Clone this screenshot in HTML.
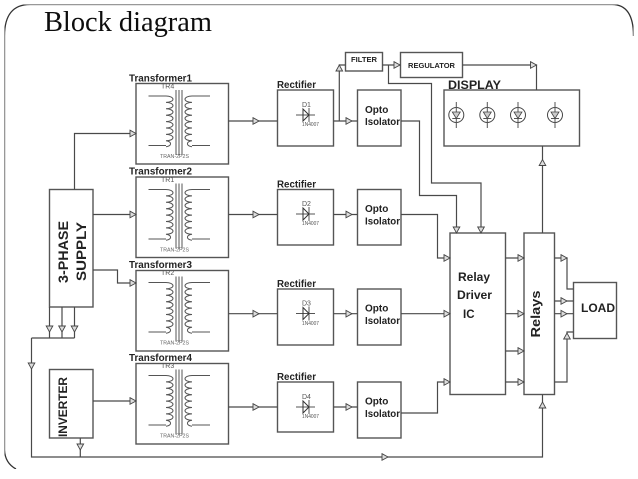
<!DOCTYPE html>
<html><head><meta charset="utf-8"><style>
html,body{margin:0;padding:0;background:#fff}
svg{display:block}
text{font-family:"Liberation Sans",sans-serif;fill:#222}
.box{fill:none;stroke:#555;stroke-width:1.4}
.w{fill:none;stroke:#4a4a4a;stroke-width:1.2}
.s{fill:none;stroke:#555;stroke-width:1}
</style></head><body>
<svg width="638" height="479" viewBox="0 0 638 479" xmlns="http://www.w3.org/2000/svg">
<defs>
<filter id="soft" x="0" y="0" width="100%" height="100%"><feGaussianBlur stdDeviation="0.3"/></filter>
<polygon id="ar" points="-6,-3.300 0,0 -6,3.300" fill="#ddd" stroke="#444" stroke-width="0.900"/>
<g id="tr">
<path class="s" d="M148.500,96H166M148.500,145.500H166"/>
<path class="s" d="M166,96a7,3.200 0 0 1 0,6.400a7,3.200 0 0 1 0,6.400a7,3.200 0 0 1 0,6.400a7,3.200 0 0 1 0,6.400a7,3.200 0 0 1 0,6.400a7,3.200 0 0 1 0,6.400a7,3.200 0 0 1 0,6.400a7,3.200 0 0 1 0,6"/>
<path class="s" d="M176,90V155M179,90V155M182,90V155"/>
<path class="s" d="M210,96H192M210,145.500H192"/>
<path class="s" d="M192,96a7,3.200 0 0 0 0,6.400a7,3.200 0 0 0 0,6.400a7,3.200 0 0 0 0,6.400a7,3.200 0 0 0 0,6.400a7,3.200 0 0 0 0,6.400a7,3.200 0 0 0 0,6.400a7,3.200 0 0 0 0,6.400a7,3.200 0 0 0 0,6"/>
<text x="160" y="158" font-size="5" style="fill:#666" textLength="29" lengthAdjust="spacingAndGlyphs">TRAN-2P2S</text>
</g>
<g id="dio">
<path class="s" d="M296,115H315M309,108V122"/>
<polygon points="303,109 309,115 303,121" fill="none" stroke="#333" stroke-width="1"/>
</g>
<g id="led">
<circle cx="0" cy="0" r="7.500" fill="none" stroke="#444" stroke-width="1"/>
<path class="s" d="M0,-13V13M-4,3.500H4"/>
<polygon points="-4,-3 4,-3 0,3.500" fill="#ccc" stroke="#444" stroke-width="0.800"/>
</g>
</defs>
<rect width="638" height="479" fill="#fff"/>
<g filter="url(#soft)">
<path d="M4.500,450V36Q4.500,4.500 30,4.500H612Q633.500,4.500 633.500,36" fill="none" stroke="#333" stroke-width="1.300"/>
<path d="M4.500,450Q5,463 16,469" fill="none" stroke="#333" stroke-width="1.300"/>
<text x="44" y="31" font-size="28.400" style="font-family:'Liberation Serif',serif;fill:#111">Block diagram</text>

<rect class="box" x="136" y="83.500" width="92.500" height="80.500"/>
<rect class="box" x="136" y="177" width="92.500" height="80.500"/>
<rect class="box" x="136" y="270.500" width="92.500" height="80.500"/>
<rect class="box" x="136" y="363.500" width="92.500" height="80.500"/>
<rect class="box" x="277.500" y="90" width="56" height="56"/>
<rect class="box" x="277.500" y="189.500" width="56" height="55.500"/>
<rect class="box" x="277.500" y="289" width="56" height="56"/>
<rect class="box" x="277.500" y="382" width="56" height="50"/>
<rect class="box" x="357.500" y="90" width="43.500" height="56"/>
<rect class="box" x="357.500" y="189.500" width="43.500" height="55.500"/>
<rect class="box" x="357.500" y="289" width="43.500" height="56"/>
<rect class="box" x="357.500" y="382" width="43.500" height="56"/>
<rect class="box" x="49.500" y="189.500" width="43.500" height="117.500"/>
<rect class="box" x="49.500" y="369.500" width="43.500" height="68.500"/>
<rect class="box" x="345.500" y="52.500" width="37" height="18.500"/>
<rect class="box" x="400.500" y="52.500" width="62" height="25"/>
<rect class="box" x="444" y="90" width="135.500" height="56"/>
<rect class="box" x="450" y="233" width="55.500" height="161.500"/>
<rect class="box" x="524" y="233" width="30.500" height="161.500"/>
<rect class="box" x="573.500" y="282.500" width="43" height="56"/>

<path class="w" d="M74.500,189.500V133.500H136M93,214.500H136M93,270H117.500V283H136M93,401H136"/>
<path class="w" d="M228.500,121H277.500M228.500,214.500H277.500M228.500,313.700H277.500M228.500,407H277.500"/>
<path class="w" d="M333.500,121H357.500M333.500,214.500H357.500M333.500,313.700H357.500M333.500,407H357.500"/>
<path class="w" d="M339.300,121V65H345.500M382.500,65H400.500M388.500,65V83.500H431.500V183H481V233"/>
<path class="w" d="M462.500,65H536.500V90"/>
<path class="w" d="M401,121H419.500V195.500H456.500V233M401,214.500H437.500V258H450M401,313.700H450M401,413H437.500V382H450"/>
<path class="w" d="M505.500,258H524M505.500,313.700H524M505.500,351H524M505.500,382H524"/>
<path class="w" d="M542.500,233V146"/>
<path class="w" d="M49.500,307V338M62,307V338M74.500,307V338M31.500,338H74.500M31.500,338V457H542.500V394.500M80.300,438V457"/>
<path class="w" d="M554.500,258H567V289H573.500M554.500,301H573.500M554.500,313.700H573.500M554.500,382H567V332H573.500"/>

<use href="#ar" transform="translate(136,133.500)"/>
<use href="#ar" transform="translate(136,214.500)"/>
<use href="#ar" transform="translate(136,283)"/>
<use href="#ar" transform="translate(136,401)"/>
<use href="#ar" transform="translate(259,121)"/>
<use href="#ar" transform="translate(259,214.500)"/>
<use href="#ar" transform="translate(259,313.700)"/>
<use href="#ar" transform="translate(259,407)"/>
<use href="#ar" transform="translate(352,121)"/>
<use href="#ar" transform="translate(352,214.500)"/>
<use href="#ar" transform="translate(352,313.700)"/>
<use href="#ar" transform="translate(352,407)"/>
<use href="#ar" transform="translate(400,65)"/>
<use href="#ar" transform="translate(536.500,65)"/>
<use href="#ar" transform="translate(450,258)"/>
<use href="#ar" transform="translate(450,313.700)"/>
<use href="#ar" transform="translate(450,382)"/>
<use href="#ar" transform="translate(524,258)"/>
<use href="#ar" transform="translate(524,313.700)"/>
<use href="#ar" transform="translate(524,351)"/>
<use href="#ar" transform="translate(524,382)"/>
<use href="#ar" transform="translate(567,258)"/>
<use href="#ar" transform="translate(567,301)"/>
<use href="#ar" transform="translate(567,313.700)"/>
<use href="#ar" transform="translate(388,457)"/>
<use href="#ar" transform="translate(456.500,233) rotate(90)"/>
<use href="#ar" transform="translate(481,233) rotate(90)"/>
<use href="#ar" transform="translate(49.500,332) rotate(90)"/>
<use href="#ar" transform="translate(62,332) rotate(90)"/>
<use href="#ar" transform="translate(74.500,332) rotate(90)"/>
<use href="#ar" transform="translate(31.500,369) rotate(90)"/>
<use href="#ar" transform="translate(80.300,450) rotate(90)"/>
<use href="#ar" transform="translate(339.300,65) rotate(-90)"/>
<use href="#ar" transform="translate(542.500,159.500) rotate(-90)"/>
<use href="#ar" transform="translate(542.500,402) rotate(-90)"/>
<use href="#ar" transform="translate(567,333) rotate(-90)"/>

<use href="#tr"/>
<use href="#tr" transform="translate(0,93.500)"/>
<use href="#tr" transform="translate(0,186.500)"/>
<use href="#tr" transform="translate(0,279.500)"/>
<text x="161" y="88.500" font-size="7" style="fill:#555">TR4</text>
<text x="161" y="182" font-size="7" style="fill:#555">TR1</text>
<text x="161" y="275" font-size="7" style="fill:#555">TR2</text>
<text x="161" y="368" font-size="7" style="fill:#555">TR3</text>

<use href="#dio"/>
<use href="#dio" transform="translate(0,99)"/>
<use href="#dio" transform="translate(0,198.500)"/>
<use href="#dio" transform="translate(0,292)"/>
<text x="302" y="107" font-size="7" style="fill:#555">D1</text>
<text x="302" y="206" font-size="7" style="fill:#555">D2</text>
<text x="302" y="305.500" font-size="7" style="fill:#555">D3</text>
<text x="302" y="399" font-size="7" style="fill:#555">D4</text>
<text x="302" y="126" font-size="5" style="fill:#555" textLength="17" lengthAdjust="spacingAndGlyphs">1N4007</text>
<text x="302" y="225" font-size="5" style="fill:#555" textLength="17" lengthAdjust="spacingAndGlyphs">1N4007</text>
<text x="302" y="325" font-size="5" style="fill:#555" textLength="17" lengthAdjust="spacingAndGlyphs">1N4007</text>
<text x="302" y="418" font-size="5" style="fill:#555" textLength="17" lengthAdjust="spacingAndGlyphs">1N4007</text>

<use href="#led" transform="translate(456.300,115)"/>
<use href="#led" transform="translate(487.300,115)"/>
<use href="#led" transform="translate(518,115)"/>
<use href="#led" transform="translate(555,115)"/>

<g font-size="10" font-weight="bold">
<text x="129" y="81.500" textLength="63" lengthAdjust="spacingAndGlyphs">Transformer1</text>
<text x="129" y="174.500" textLength="63" lengthAdjust="spacingAndGlyphs">Transformer2</text>
<text x="129" y="268" textLength="63" lengthAdjust="spacingAndGlyphs">Transformer3</text>
<text x="129" y="361" textLength="63" lengthAdjust="spacingAndGlyphs">Transformer4</text>
<text x="277" y="88" textLength="39" lengthAdjust="spacingAndGlyphs">Rectifier</text>
<text x="277" y="187.500" textLength="39" lengthAdjust="spacingAndGlyphs">Rectifier</text>
<text x="277" y="287" textLength="39" lengthAdjust="spacingAndGlyphs">Rectifier</text>
<text x="277" y="380" textLength="39" lengthAdjust="spacingAndGlyphs">Rectifier</text>
<text x="365" y="113">Opto</text><text x="365" y="125" textLength="35" lengthAdjust="spacingAndGlyphs">Isolator</text>
<text x="365" y="212">Opto</text><text x="365" y="224.500" textLength="35" lengthAdjust="spacingAndGlyphs">Isolator</text>
<text x="365" y="311.500">Opto</text><text x="365" y="324" textLength="35" lengthAdjust="spacingAndGlyphs">Isolator</text>
<text x="365" y="404.500">Opto</text><text x="365" y="417" textLength="35" lengthAdjust="spacingAndGlyphs">Isolator</text>
</g>
<text x="351" y="62" font-size="7" font-weight="bold" textLength="26" lengthAdjust="spacingAndGlyphs">FILTER</text>
<text x="408" y="68" font-size="7.500" font-weight="bold" textLength="47" lengthAdjust="spacingAndGlyphs">REGULATOR</text>
<text x="448" y="89" font-size="12" font-weight="bold" textLength="53" lengthAdjust="spacingAndGlyphs">DISPLAY</text>
<text transform="translate(68,283) rotate(-90)" font-size="14" font-weight="bold" textLength="62" lengthAdjust="spacingAndGlyphs">3-PHASE</text>
<text transform="translate(86,281) rotate(-90)" font-size="14" font-weight="bold" textLength="59" lengthAdjust="spacingAndGlyphs">SUPPLY</text>
<text transform="translate(67,437) rotate(-90)" font-size="12" font-weight="bold" textLength="60" lengthAdjust="spacingAndGlyphs">INVERTER</text>
<text x="458" y="281" font-size="11.500" font-weight="bold" textLength="32" lengthAdjust="spacingAndGlyphs">Relay</text>
<text x="457" y="299" font-size="11.500" font-weight="bold" textLength="35" lengthAdjust="spacingAndGlyphs">Driver</text>
<text x="463" y="318" font-size="11.500" font-weight="bold">IC</text>
<text transform="translate(540,337.500) rotate(-90)" font-size="13" font-weight="bold" textLength="47" lengthAdjust="spacingAndGlyphs">Relays</text>
<text x="581" y="312" font-size="12" font-weight="bold" textLength="34" lengthAdjust="spacingAndGlyphs">LOAD</text>
</g>
</svg>
</body></html>
